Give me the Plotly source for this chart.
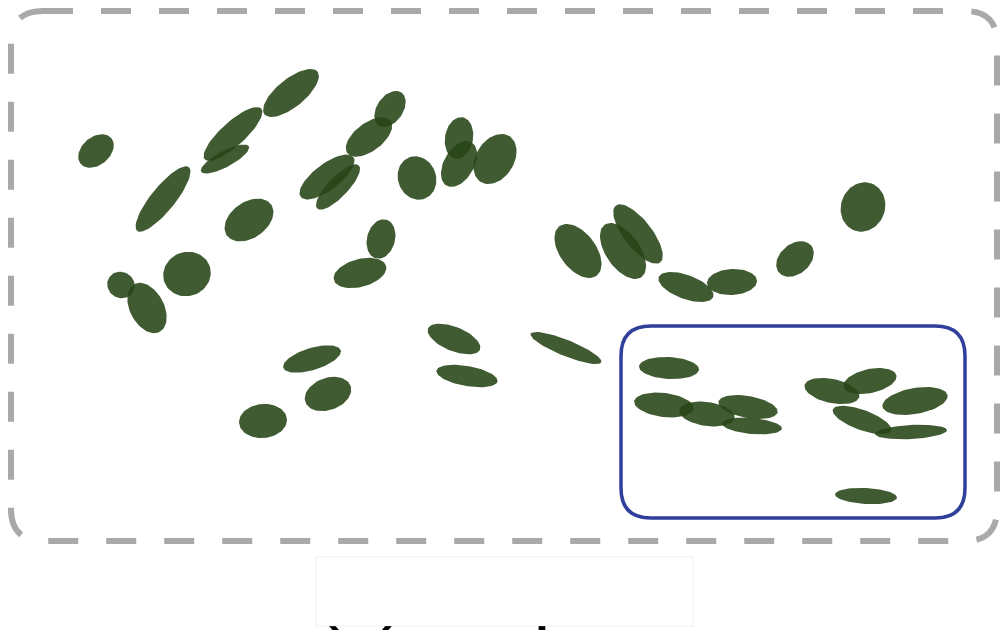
import numpy as np
import plotly.graph_objects as go

# ellipse blobs (pixel units, y grows downwards)
cx = [96, 163, 233, 225, 291, 249, 187, 121, 147, 369, 390, 327, 338, 417, 459, 459,
      495, 381, 360, 312, 328, 263, 454, 467, 566, 578, 623, 638, 686, 732, 795, 863,
      669, 664, 707, 748, 752, 832, 870, 915, 862, 911, 866]
cy = [151, 199, 134, 159, 93, 220, 274, 285, 308, 137, 109, 177, 187, 178, 138, 164,
      159, 239, 273, 359, 394, 421, 339, 376, 348, 251, 251, 234, 287, 282, 259, 207,
      368, 405, 414, 407, 426, 391, 381, 401, 420, 432, 496]
semi_a = [20, 41, 38, 27, 34, 27, 24, 14, 27, 27, 20, 33, 30, 22, 21, 25,
          27, 20, 27, 30, 24, 24, 28, 31, 38, 31, 32, 36, 29, 25, 21, 25,
          30, 30, 28, 30, 30, 28, 27, 33, 31, 36, 31]
semi_b = [14, 12, 12, 8, 14, 18, 22, 13, 17, 14, 13, 13, 10, 19, 14, 15,
          19, 14, 14, 11, 16, 17, 12, 10, 8, 18, 17, 14, 12, 13, 15, 22,
          11, 12, 12, 11, 8, 12, 12, 13, 10, 7, 8]
tilt_deg = [40, 51, 42, 28, 39, 35, 20, -30, -62, 37, 55, 37, 46, -70, 80, 60,
            58, 75, 15, 17, 20, 5, -22, -10, -22, -53, -55, -52, -20, 3, 40, 70,
            -3, -7, -8, -10, -5, -12, 12, 10, -20, 3, -3]

caption = "(a) Map"

W, H = 1008, 641
PAGE_PAD = 8  # the page body keeps its default 8px margin
t = np.linspace(0, 2 * np.pi, 73)

fig = go.Figure()

for x0, y0, a, b, th in zip(cx, cy, semi_a, semi_b, tilt_deg):
    r = np.radians(th)
    ex = x0 + a * np.cos(t) * np.cos(r) - b * np.sin(t) * np.sin(r)
    ey = y0 - (a * np.cos(t) * np.sin(r) + b * np.sin(t) * np.cos(r))
    fig.add_trace(go.Scatter(
        x=ex, y=ey,
        mode='lines',
        fill='toself',
        fillcolor='rgba(38,68,22,0.88)',
        line=dict(width=0),
        hoverinfo='skip',
        showlegend=False,
    ))

# caption, mostly hidden under a white box as in the source
fig.add_trace(go.Scatter(
    x=[314], y=[633],
    mode='text',
    text=[caption],
    textposition='top right',
    textfont=dict(family='Liberation Sans', size=76, color='black'),
    hoverinfo='skip',
    showlegend=False,
))


def rounded_rect(x0, y0, x1, y1, r):
    return (f"M {x0 + r},{y0} L {x1 - r},{y0} Q {x1},{y0} {x1},{y0 + r} "
            f"L {x1},{y1 - r} Q {x1},{y1} {x1 - r},{y1} "
            f"L {x0 + r},{y1} Q {x0},{y1} {x0},{y1 - r} "
            f"L {x0},{y0 + r} Q {x0},{y0} {x0 + r},{y0} Z")


shapes = [
    dict(type='path', path=rounded_rect(11, 11, 997, 541, 32),
         line=dict(color='#a9a9a9', width=6, dash='30px,28px'), layer='below'),
    dict(type='path', path=rounded_rect(621, 326, 965, 518, 30),
         line=dict(color='#2f3f9a', width=3.5), layer='above'),
    dict(type='rect', x0=316, x1=693, y0=557, y1=626,
         fillcolor='white', line=dict(color='rgba(200,200,200,0.3)', width=1),
         layer='above'),
]

fig.update_layout(
    width=W - PAGE_PAD, height=H - PAGE_PAD,
    margin=dict(l=0, r=0, t=0, b=0),
    paper_bgcolor='white',
    plot_bgcolor='white',
    xaxis=dict(range=[PAGE_PAD, W], visible=False, fixedrange=True),
    yaxis=dict(range=[H, PAGE_PAD], visible=False, fixedrange=True),
    shapes=shapes,
)

fig.write_html("out.html")
